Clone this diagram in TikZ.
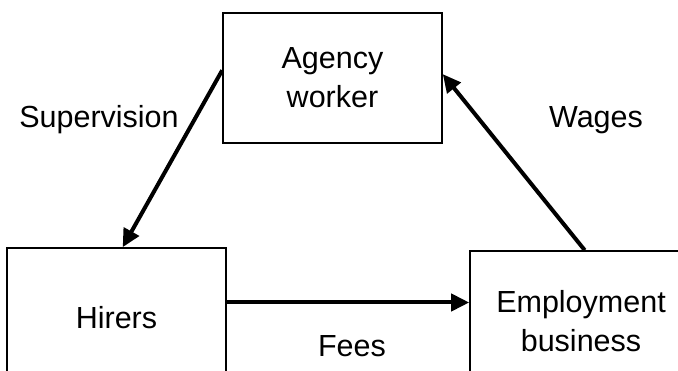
\documentclass[tikz,border=0pt]{standalone}
\usepackage{fontspec}
\setmainfont{Liberation Sans}
\usetikzlibrary{arrows.meta}

\begin{document}
\begin{tikzpicture}[x=1pt,y=-1pt]
\useasboundingbox (0,0) rectangle (678,371);
\clip (0,0) rectangle (678,371);
\begin{scope}[every node/.style={rectangle,draw,line width=1.6pt,align=center,
                                 font=\fontsize{30.5}{39}\selectfont}]
    \node [minimum width=219pt,minimum height=130pt] (agency) at (332.5,78) {Agency\\worker};
    \node [minimum width=219pt,minimum height=140pt] (hirers) at (116.5,318) {Hirers};
    \node [minimum width=222pt,minimum height=140pt] (employ) at (581,321) {Employment\\business};
\end{scope}
\begin{scope}[every node/.style={anchor=base,font=\fontsize{30.5}{39}\selectfont}]
    \node (superv) at (99,128) {Supervision};
    \node (wages) at (596,128) {Wages};
    \node (fees) at (352,357) {Fees};
\end{scope}
\begin{scope}[>={Triangle[length=18pt,width=17pt]},
              every path/.style={line width=4pt}]
    \draw [->] (agency.176) -- (hirers.85);
    \draw [->] (hirers.8) -- (hirers.8 -| employ.west);
    \draw [->] (employ.87) -- (agency.2);
\end{scope}
\end{tikzpicture}
\end{document}
